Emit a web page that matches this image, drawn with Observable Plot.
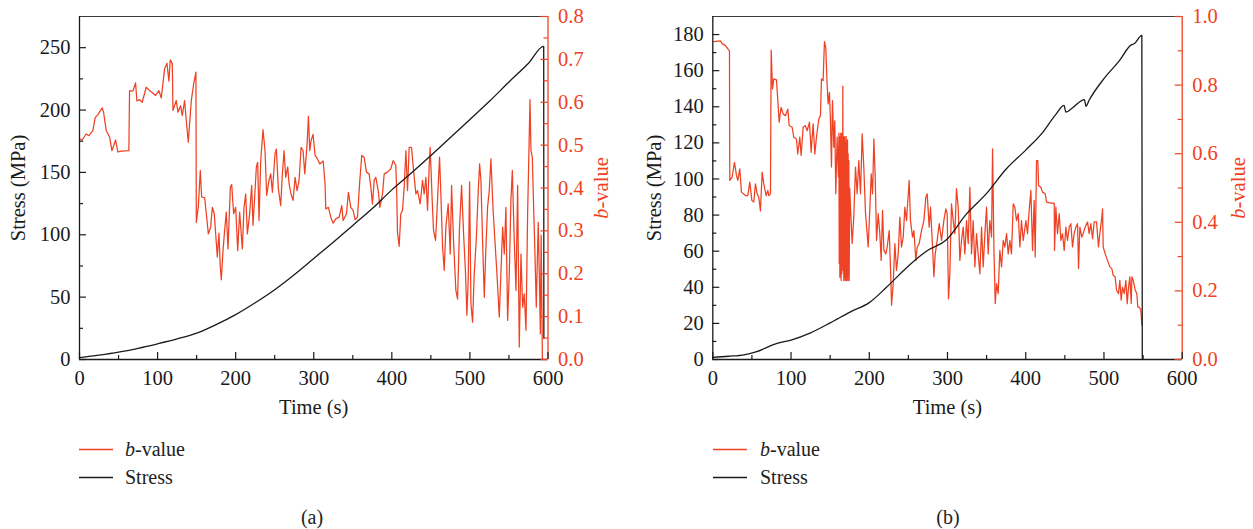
<!DOCTYPE html>
<html><head><meta charset="utf-8">
<script src="https://cdn.jsdelivr.net/npm/d3@7"></script>
<script src="https://cdn.jsdelivr.net/npm/@observablehq/plot@0.6"></script>
<style>
html,body{margin:0;padding:0;background:#fff;}
#root{position:relative;width:1253px;height:529px;overflow:hidden;font-family:"Liberation Serif","DejaVu Serif",serif;color:#222;}
.panel{position:absolute;top:0;}
.leg{position:absolute;font-size:20px;line-height:28px;height:28px;white-space:nowrap;width:200px;}
.leg svg{position:absolute;left:0;top:13px;}
.leg span{position:absolute;top:0;}
.cap{position:absolute;font-size:20px;line-height:24px;transform:translateX(-50%);}
</style></head><body><div id="root"></div>
<script>
const RED = "#ef4123";
const INK = "#1a1a1a";

// ticks
const timeTicks = [0, 100, 200, 300, 400, 500, 600];
const timeMinor = [50, 150, 250, 350, 450, 550];
const stressTicksA = [0, 50, 100, 150, 200, 250];
const stressMinorA = [25, 75, 125, 175, 225];
const bTicksA = [0, 0.1, 0.2, 0.3, 0.4, 0.5, 0.6, 0.7, 0.8];
const bMinorA = [0.05, 0.15, 0.25, 0.35, 0.45, 0.55, 0.65, 0.75];
const stressTicksB = [0, 20, 40, 60, 80, 100, 120, 140, 160, 180];
const stressMinorB = [10, 30, 50, 70, 90, 110, 130, 150, 170];
const bTicksB = [0, 0.2, 0.4, 0.6, 0.8, 1.0];
const bMinorB = [0.1, 0.3, 0.5, 0.7, 0.9];

// panel (a): [time s, stress MPa]
const stressA = [[0,1.5],[25,3.5],[50,5.9],[75,9],[100,12.6],[125,16.5],[150,21.1],[175,28],[200,36],[225,45.5],[250,56],[275,68],[300,81],[325,94],[350,107.5],[375,121],[400,136],[425,149.5],[450,163.5],[475,178],[500,192.5],[525,207],[550,222.5],[575,237.5],[594.5,251],[594.7,17]];

// panel (a): [time s, b-value]
const bValueA = [[0,0.515],[3.4,0.512],[8.5,0.526],[12,0.522],[17.1,0.534],[20.1,0.564],[23.5,0.571],[29.1,0.587],[30.8,0.577],[34.2,0.534],[38.5,0.519],[41.5,0.487],[46.2,0.512],[49.1,0.484],[53.4,0.486],[63.2,0.487],[64.1,0.627],[68.4,0.626],[71.8,0.645],[73.5,0.603],[76.9,0.606],[80.3,0.6],[85.5,0.635],[90.6,0.626],[97.4,0.616],[101.7,0.627],[104.7,0.61],[109,0.678],[112,0.691],[114.5,0.649],[116.2,0.699],[118.8,0.69],[119.7,0.581],[123.9,0.604],[126.1,0.577],[129.5,0.592],[131.6,0.569],[134.6,0.604],[136.8,0.557],[139.3,0.507],[143.2,0.604],[146.2,0.643],[149.1,0.67],[149.6,0.32],[152.1,0.355],[154.7,0.441],[156.4,0.379],[160.3,0.377],[162.4,0.34],[165,0.293],[168,0.309],[170.1,0.355],[172.6,0.34],[174.4,0.293],[176.5,0.239],[178.6,0.295],[180.3,0.215],[181.6,0.186],[183.8,0.254],[185.5,0.293],[188,0.344],[190.2,0.258],[193.2,0.402],[194.9,0.408],[197.4,0.34],[200,0.355],[202.6,0.254],[205.1,0.344],[208.5,0.258],[210.7,0.355],[212.8,0.386],[215,0.293],[217.9,0.34],[220.5,0.406],[222.2,0.313],[224.8,0.394],[226.5,0.449],[228.2,0.46],[229.9,0.324],[232.1,0.464],[235,0.536],[237.6,0.487],[239.7,0.383],[242.7,0.418],[244.9,0.433],[247,0.39],[250.4,0.48],[252.1,0.491],[254.7,0.398],[257.7,0.359],[259.8,0.433],[262,0.487],[264.1,0.425],[266.7,0.449],[268.4,0.41],[270.9,0.386],[273.5,0.371],[276.1,0.425],[278.6,0.394],[281.2,0.418],[283.8,0.495],[286.3,0.487],[288.5,0.433],[291.5,0.503],[293.2,0.567],[294.9,0.487],[296.6,0.511],[299.1,0.525],[301.7,0.476],[304.7,0.468],[307.7,0.456],[312,0.463],[314.5,0.41],[315.4,0.351],[318.8,0.355],[321.8,0.332],[324.8,0.318],[328.2,0.328],[332.5,0.332],[335.9,0.359],[337.6,0.324],[341.9,0.34],[344.4,0.39],[347.4,0.355],[350.4,0.348],[353,0.326],[356,0.332],[359,0.418],[361.5,0.476],[364.5,0.472],[367.5,0.437],[370.9,0.433],[373.1,0.402],[375.2,0.363],[377.4,0.418],[379.5,0.425],[382.9,0.39],[384.6,0.355],[388,0.386],[390.2,0.433],[394.4,0.437],[398.7,0.445],[401.7,0.464],[405.1,0.453],[406.4,0.379],[407.2,0.297],[409.4,0.264],[411.5,0.34],[413.7,0.348],[415.8,0.402],[418,0.487],[420.1,0.394],[422.2,0.495],[425.2,0.495],[427.8,0.441],[430.8,0.386],[432.9,0.394],[436.3,0.363],[439.3,0.418],[441.4,0.386],[443.6,0.425],[445.7,0.348],[447.8,0.449],[449.1,0.495],[451.7,0.371],[453.4,0.301],[456,0.278],[458.5,0.371],[461.1,0.472],[462.8,0.386],[465,0.262],[467.1,0.208],[469.2,0.309],[472.2,0.363],[474.8,0.246],[476.5,0.406],[479,0.278],[482,0.161],[484.2,0.141],[486.7,0.309],[489.3,0.406],[491.9,0.293],[494.4,0.2],[496.1,0.103],[497.8,0.184],[499.6,0.414],[501.3,0.13],[503.4,0.087],[505.5,0.2],[508.1,0.278],[510.7,0.394],[512.4,0.456],[514.1,0.418],[516.2,0.278],[518.4,0.145],[520.5,0.262],[522.6,0.355],[524.8,0.394],[526.9,0.468],[529.5,0.355],[532,0.278],[534.6,0.2],[537.6,0.099],[539.7,0.2],[541.9,0.309],[544,0.246],[546.1,0.355],[548.3,0.091],[550.4,0.2],[552.5,0.371],[554.3,0.441],[556.8,0.278],[559,0.161],[561.1,0.406],[563.2,0.029],[565.4,0.246],[567.5,0.122],[569.6,0.153],[571.8,0.068],[573.9,0.34],[575.6,0.487],[576.9,0.606],[578.2,0.487],[579.9,0.472],[581.6,0.355],[583.3,0.246],[585,0.122],[586.3,0.231],[587.5,0.32],[589,0.184],[590.2,0.06],[591.2,0.29],[592.2,0.12],[592.8,0]];

// panel (b): [time s, stress MPa]
const stressB = [[0,1.2],[20,1.8],[40,2.6],[55,4.2],[82,8.9],[100,10.8],[125,14.8],[150,20.3],[176,26.4],[200,31.5],[222,40],[248,51],[273,60],[299,66.5],[324,80.5],[350,92],[375,105.5],[400,116],[422,126],[438,135.5],[449,140.8],[451.3,137],[460,139.5],[475,144],[477,140.3],[481,143.6],[500,155.6],[520,165.7],[534,174],[539,175],[548.4,179.6],[549,0.5]];

// panel (b): [time s, b-value]
const bValueB = [[1.3,0.927],[9.8,0.929],[11.9,0.921],[16.2,0.915],[20.5,0.902],[21.3,0.9],[21.7,0.522],[24.7,0.532],[27.7,0.575],[30.3,0.536],[32,0.522],[34.5,0.556],[36.6,0.488],[41.8,0.478],[44.7,0.478],[47.3,0.517],[49.9,0.464],[52.4,0.459],[54.5,0.512],[56.7,0.483],[58.8,0.473],[60.9,0.433],[63.1,0.546],[65.2,0.512],[68.2,0.478],[70.3,0.493],[71.6,0.478],[73.7,0.483],[74.6,0.902],[76.3,0.789],[78,0.818],[81.4,0.815],[83.1,0.755],[84.8,0.692],[87.3,0.735],[89.9,0.716],[92.9,0.711],[95.9,0.73],[97.6,0.682],[101.4,0.677],[103.5,0.648],[106.9,0.643],[108.6,0.599],[111.2,0.648],[112.9,0.595],[115.5,0.677],[118.4,0.682],[120.6,0.667],[123.6,0.692],[125.7,0.604],[128.2,0.687],[130.4,0.599],[132.5,0.648],[135.5,0.701],[137.6,0.711],[138.9,0.818],[141,0.813],[142.7,0.927],[144.4,0.91],[146.1,0.803],[147.4,0.745],[149.1,0.779],[150.4,0.696],[151.7,0.561],[153,0.755],[154.7,0.619],[155.9,0.696],[157.2,0.483],[158.9,0.648],[160.6,0.532],[161.2,0.66],[161.6,0.28],[162,0.65],[162.4,0.24],[162.8,0.64],[163.2,0.31],[163.6,0.66],[164,0.23],[164.4,0.63],[164.9,0.25],[165.3,0.66],[165.7,0.27],[166.2,0.797],[166.6,0.26],[167,0.65],[167.4,0.23],[167.8,0.64],[168.3,0.24],[168.7,0.65],[169.2,0.23],[169.6,0.63],[170,0.24],[170.5,0.65],[170.9,0.23],[171.3,0.62],[171.7,0.24],[172.2,0.64],[172.6,0.23],[173,0.6],[173.4,0.25],[173.9,0.58],[174.3,0.23],[175,0.5],[176,0.444],[178.1,0.338],[180.2,0.415],[182.4,0.561],[184.5,0.483],[186.6,0.58],[188.8,0.483],[190.9,0.658],[193,0.561],[195.1,0.43],[198.6,0.328],[200.8,0.444],[202.5,0.541],[204.2,0.483],[205.9,0.643],[207.6,0.532],[209.3,0.347],[211.4,0.425],[213.5,0.367],[215.2,0.289],[217,0.435],[218.7,0.318],[221.2,0.308],[222.9,0.328],[225.5,0.376],[227.2,0.26],[228.5,0.158],[230.6,0.221],[232.7,0.338],[234.8,0.26],[237,0.308],[239.1,0.415],[241.2,0.328],[243.4,0.357],[245.5,0.444],[247.6,0.405],[251,0.522],[252.7,0.405],[255.3,0.357],[257,0.376],[259.6,0.289],[261.3,0.328],[263.8,0.338],[266.8,0.376],[269.8,0.405],[272.3,0.473],[274,0.483],[276.6,0.386],[278.3,0.444],[280.9,0.328],[282.6,0.241],[284.3,0.308],[286.8,0.347],[289.4,0.396],[292.4,0.347],[295.3,0.405],[297.9,0.439],[299.6,0.425],[301.3,0.177],[303,0.25],[305.1,0.454],[307.3,0.405],[309.4,0.367],[311.5,0.498],[313.7,0.444],[315.8,0.289],[317.9,0.347],[320.1,0.386],[322.2,0.308],[324.3,0.405],[326.5,0.338],[328.6,0.502],[330.7,0.308],[332.8,0.405],[335,0.27],[337.1,0.367],[339.2,0.308],[341.4,0.25],[343.5,0.386],[345.6,0.27],[347.8,0.367],[349.9,0.444],[352,0.308],[354.1,0.405],[356.3,0.357],[357.6,0.614],[359.3,0.328],[361,0.163],[362.7,0.221],[364.8,0.192],[366.9,0.318],[369.1,0.27],[371.2,0.347],[373.3,0.328],[375.5,0.367],[377.6,0.308],[379.7,0.347],[381.8,0.308],[384,0.454],[386.1,0.444],[388.2,0.405],[390.4,0.425],[392.5,0.328],[394.6,0.405],[396.8,0.347],[400.2,0.405],[402.3,0.367],[404.4,0.435],[406.6,0.493],[408.7,0.318],[410.8,0.464],[412.1,0.299],[413.8,0.58],[415.5,0.58],[416.4,0.507],[419.3,0.502],[421.5,0.488],[424.9,0.483],[426.6,0.459],[432.1,0.456],[436.4,0.456],[436.8,0.318],[438.5,0.444],[440.6,0.367],[442.8,0.425],[444.9,0.347],[447,0.367],[449.2,0.318],[451.3,0.386],[453.4,0.347],[455.6,0.386],[457.7,0.396],[459.8,0.328],[461.9,0.367],[464.1,0.386],[466.2,0.396],[467.5,0.265],[469.2,0.386],[471.7,0.357],[473.4,0.367],[476,0.386],[479,0.401],[481.1,0.367],[483.2,0.396],[485.4,0.352],[487.5,0.401],[490.5,0.401],[493,0.328],[494.7,0.367],[497.3,0.415],[498.2,0.439],[499,0.328],[501.6,0.308],[504.5,0.289],[507.5,0.27],[510.1,0.265],[511.8,0.245],[514.3,0.241],[516.1,0.202],[518.6,0.192],[520.3,0.231],[522,0.173],[523.7,0.211],[525.9,0.192],[528,0.231],[529.7,0.163],[531.4,0.211],[533.1,0.241],[534.8,0.163],[535.7,0.241],[537.4,0.231],[539.9,0.202],[542,0.192],[543.3,0.153],[545,0.153],[547.2,0.144],[548.4,0.1]];

const FONT = "'Liberation Serif', 'DejaVu Serif', serif";
const H = 420, MT = 16, MB = 61;
const MAJOR = 7, MINOR = 4;

function panel({bData, sData, yMax, bMax, sTicks, sMinor, bTicks, bMinor, width, ml, mr, leftOff, rightOff}) {
  const k = yMax / bMax;
  const bT = bTicks.map(v => v * k), bM = bMinor.map(v => v * k);
  const pw = width - ml - mr, ph = H - MT - MB;
  const svg = Plot.plot({
    width, height: H,
    marginLeft: ml, marginRight: mr, marginTop: MT, marginBottom: MB,
    style: {fontFamily: FONT, fontSize: "20.5px", color: INK, background: "transparent", overflow: "visible"},
    x: {domain: [0, 600]},
    y: {domain: [0, yMax]},
    marks: [
      Plot.line(bData, {x: d => d[0], y: d => d[1] * k, stroke: RED, strokeWidth: 1.25}),
      Plot.line(sData, {x: d => d[0], y: d => d[1], stroke: INK, strokeWidth: 1.3, curve: "monotone-x"}),
      // frame
      Plot.ruleY([yMax], {stroke: "#3a3a3a", strokeWidth: 1.2}),
      Plot.ruleY([0], {stroke: INK, strokeWidth: 1.3}),
      Plot.ruleX([0], {stroke: INK, strokeWidth: 1.3}),
      Plot.ruleX([600], {stroke: RED, strokeWidth: 1.3}),
      // inward ticks: bottom (rules inset to tick length)
      Plot.ruleX(timeTicks, {insetTop: ph - MAJOR, stroke: INK, strokeWidth: 1.2}),
      Plot.ruleX(timeMinor, {insetTop: ph - MINOR, stroke: INK, strokeWidth: 1.2}),
      // inward ticks: left
      Plot.ruleY(sTicks, {insetRight: pw - MAJOR, stroke: INK, strokeWidth: 1.2}),
      Plot.ruleY(sMinor, {insetRight: pw - MINOR, stroke: INK, strokeWidth: 1.2}),
      // inward ticks: right (b-value)
      Plot.ruleY(bT, {insetLeft: pw - MAJOR, stroke: RED, strokeWidth: 1.2}),
      Plot.ruleY(bM, {insetLeft: pw - MINOR, stroke: RED, strokeWidth: 1.2}),
      // labels
      Plot.axisX(timeTicks, {tickSize: 0, tickPadding: 11, fill: INK, label: "Time (s)", labelAnchor: "center", labelOffset: 54, labelArrow: "none"}),
      Plot.axisY(sTicks, {anchor: "left", tickSize: 0, tickPadding: 9, fill: INK, label: "Stress (MPa)", labelAnchor: "center", labelOffset: leftOff, labelArrow: "none"}),
      Plot.axisY(bT, {anchor: "right", tickSize: 0, tickPadding: 10, fill: RED, tickFormat: d => (d / k).toFixed(1), label: "b-value", labelAnchor: "center", labelOffset: rightOff, labelArrow: "none"})
    ]
  });
  svg.querySelectorAll("text").forEach(t => {
    if (t.textContent === "b-value") {
      t.textContent = "";
      const ns = "http://www.w3.org/2000/svg";
      const a = document.createElementNS(ns, "tspan"); a.setAttribute("font-style", "italic"); a.textContent = "b";
      const b = document.createElementNS(ns, "tspan"); b.textContent = "-value";
      t.appendChild(a); t.appendChild(b);
    }
  });
  return svg;
}

const root = document.getElementById("root");
function place(el, left) { const d = document.createElement("div"); d.className = "panel"; d.style.left = left + "px"; d.appendChild(el); root.appendChild(d); }

place(panel({bData: bValueA, sData: stressA, yMax: 275, bMax: 0.8, sTicks: stressTicksA, sMinor: stressMinorA, bTicks: bTicksA, bMinor: bMinorA, width: 626, ml: 79, mr: 78.5, leftOff: 69, rightOff: 60}), 0);
place(panel({bData: bValueB, sData: stressB, yMax: 190, bMax: 1.0, sTicks: stressTicksB, sMinor: stressMinorB, bTicks: bTicksB, bMinor: bMinorB, width: 627, ml: 86.3, mr: 71.3, leftOff: 66, rightOff: 63}), 626);

function legend(lineLeft, textLeft) {
  const items = [["b-value", RED, true], ["Stress", INK, false]];
  items.forEach(([name, color, ital], i) => {
    const d = document.createElement("div");
    d.className = "leg";
    d.style.left = lineLeft + "px";
    d.style.top = (435 + i * 28) + "px";
    d.innerHTML = `<svg width="36" height="3"><line x1="0" x2="34" y1="1.5" y2="1.5" stroke="${color}" stroke-width="1.3"/></svg>` +
      `<span style="left:${textLeft - lineLeft}px">${ital ? "<i>b</i>-value" : name}</span>`;
    root.appendChild(d);
  });
}
legend(79, 125);
legend(713, 760);

function caption(text, cx) {
  const d = document.createElement("div");
  d.className = "cap"; d.style.left = cx + "px"; d.style.top = "505px"; d.textContent = text;
  root.appendChild(d);
}
caption("(a)", 312);
caption("(b)", 948);
</script></body></html>
